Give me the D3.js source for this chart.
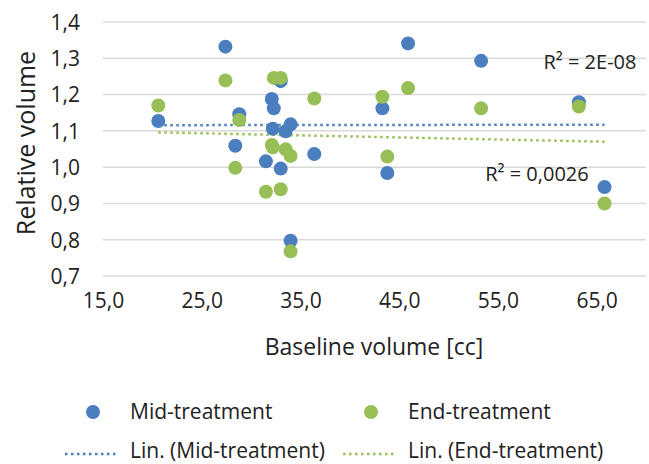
<!DOCTYPE html>
<html>
<head>
<meta charset="utf-8">
<script src="https://cdn.jsdelivr.net/npm/d3@7"></script>
<style>
    body { margin: 0; background: #fff; }
    text { font-family: "Open Sans", sans-serif; fill: #222; }
</style>
</head>
<body>
<svg id="chart"></svg>
<script>
// baseline volume [cc] per patient and relative volume at mid / end of treatment
const baselineVolume = [20.6, 27.4, 28.8, 28.4, 32.1, 32.3, 32.2, 31.5, 33.0, 33.0,
                        33.5, 34.0, 34.0, 36.4, 45.9, 53.3, 43.3, 43.8, 63.2, 65.8];
const midTreatment = [1.127, 1.332, 1.146, 1.059, 1.188, 1.162, 1.106, 1.016, 0.996, 1.237,
                      1.099, 1.118, 0.797, 1.036, 1.341, 1.293, 1.162, 0.984, 1.179, 0.945];
const endTreatment = [1.170, 1.239, 1.130, 0.998, 1.061, 1.246, 1.055, 0.932, 0.939, 1.246,
                      1.049, 1.031, 0.768, 1.189, 1.218, 1.162, 1.194, 1.029, 1.167, 0.900];
const xTicks = [15, 25, 35, 45, 55, 65];
const yTicks = [0.7, 0.8, 0.9, 1.0, 1.1, 1.2, 1.3, 1.4];
const seriesNames = ['Mid-treatment', 'End-treatment'];
const rSquaredLabels = ['R\u00b2 = 2E-08', 'R\u00b2 = 0,0026'];

const width = 649;
const height = 464;
const blue = '#4a7ebf';
const green = '#97bf55';

const svg = d3.select('#chart')
    .attr('width', width)
    .attr('height', height);

const xScale = d3.scaleLinear()
    .domain([15, 70])
    .range([103, 646]);

const yScale = d3.scaleLinear()
    .domain([0.7, 1.4])
    .range([276, 22]);

const fmt = v => d3.format('.1f')(v).replace('.', ',');

// horizontal gridlines
svg.append('g')
    .selectAll('line')
    .data(yTicks)
    .enter()
    .append('line')
    .attr('x1', xScale.range()[0])
    .attr('x2', xScale.range()[1])
    .attr('y1', d => yScale(d))
    .attr('y2', d => yScale(d))
    .style('stroke', '#d9d9d9')
    .style('stroke-width', '1.5px');

// y axis (labels only)
const yAxis = svg.append('g')
    .attr('transform', 'translate(103,0)')
    .call(d3.axisLeft(yScale).tickValues(yTicks).tickFormat(fmt).tickSize(0).tickPadding(23));
yAxis.select('.domain').remove();
yAxis.selectAll('text')
    .style('font-size', '21px')
    .attr('font-family', null)
    .attr('dy', '0.35em');

// x axis (labels only)
const xAxis = svg.append('g')
    .attr('transform', 'translate(0,276)')
    .call(d3.axisBottom(xScale).tickValues(xTicks).tickFormat(fmt).tickSize(0).tickPadding(17));
xAxis.select('.domain').remove();
xAxis.selectAll('text')
    .style('font-size', '21px')
    .attr('font-family', null);

// axis titles
svg.append('text')
    .attr('transform', 'translate(374,347)')
    .attr('dy', '0.35em')
    .style('text-anchor', 'middle')
    .style('font-size', '23px')
    .text('Baseline volume [cc]');

svg.append('text')
    .attr('transform', 'translate(26,143) rotate(-90)')
    .attr('dy', '0.35em')
    .style('text-anchor', 'middle')
    .style('font-size', '25px')
    .text('Relative volume');

// linear trendlines (least squares over each series)
function trend(ys) {
    const mx = d3.mean(baselineVolume);
    const my = d3.mean(ys);
    let sxy = 0, sxx = 0;
    baselineVolume.forEach((x, i) => {
        sxy += (x - mx) * (ys[i] - my);
        sxx += (x - mx) * (x - mx);
    });
    const slope = sxy / sxx;
    const [x0, x1] = d3.extent(baselineVolume);
    return [[x0, my + slope * (x0 - mx)], [x1, my + slope * (x1 - mx)]];
}

const series = [
    { name: seriesNames[0], values: midTreatment, color: blue },
    { name: seriesNames[1], values: endTreatment, color: green }
];

series.forEach(s => {
    svg.append('path')
        .datum(trend(s.values))
        .attr('d', d3.line().x(d => xScale(d[0])).y(d => yScale(d[1])))
        .style('fill', 'none')
        .style('stroke', s.color)
        .style('stroke-width', '2.5px')
        .style('stroke-dasharray', '2.5 3.5');
});

// points
series.forEach(s => {
    svg.append('g')
        .selectAll('circle')
        .data(s.values)
        .enter()
        .append('circle')
        .attr('cx', (d, i) => xScale(baselineVolume[i]))
        .attr('cy', d => yScale(d))
        .attr('r', 7)
        .attr('fill', s.color);
});

// R² labels
svg.append('text')
    .attr('x', 590)
    .attr('y', 62)
    .attr('dy', '0.35em')
    .style('text-anchor', 'middle')
    .style('font-size', '20px')
    .text(rSquaredLabels[0]);

svg.append('text')
    .attr('x', 537)
    .attr('y', 174)
    .attr('dy', '0.35em')
    .style('text-anchor', 'middle')
    .style('font-size', '20px')
    .text(rSquaredLabels[1]);

// legend
const legendX = [93, 371];
series.forEach((s, i) => {
    const g = svg.append('g');
    g.append('circle')
        .attr('cx', legendX[i])
        .attr('cy', 412)
        .attr('r', 7)
        .attr('fill', s.color);
    g.append('text')
        .attr('x', legendX[i] + 37)
        .attr('y', 412)
        .attr('dy', '0.35em')
        .style('font-size', '21px')
        .text(s.name);
    g.append('line')
        .attr('x1', legendX[i] - 28)
        .attr('x2', legendX[i] + 26)
        .attr('y1', 454)
        .attr('y2', 454)
        .style('stroke', s.color)
        .style('stroke-width', '2.5px')
        .style('stroke-dasharray', '2.5 3.5');
    g.append('text')
        .attr('x', legendX[i] + 37)
        .attr('y', 451)
        .attr('dy', '0.35em')
        .style('font-size', '21px')
        .text('Lin. (' + s.name + ')');
});
</script>
</body>
</html>
